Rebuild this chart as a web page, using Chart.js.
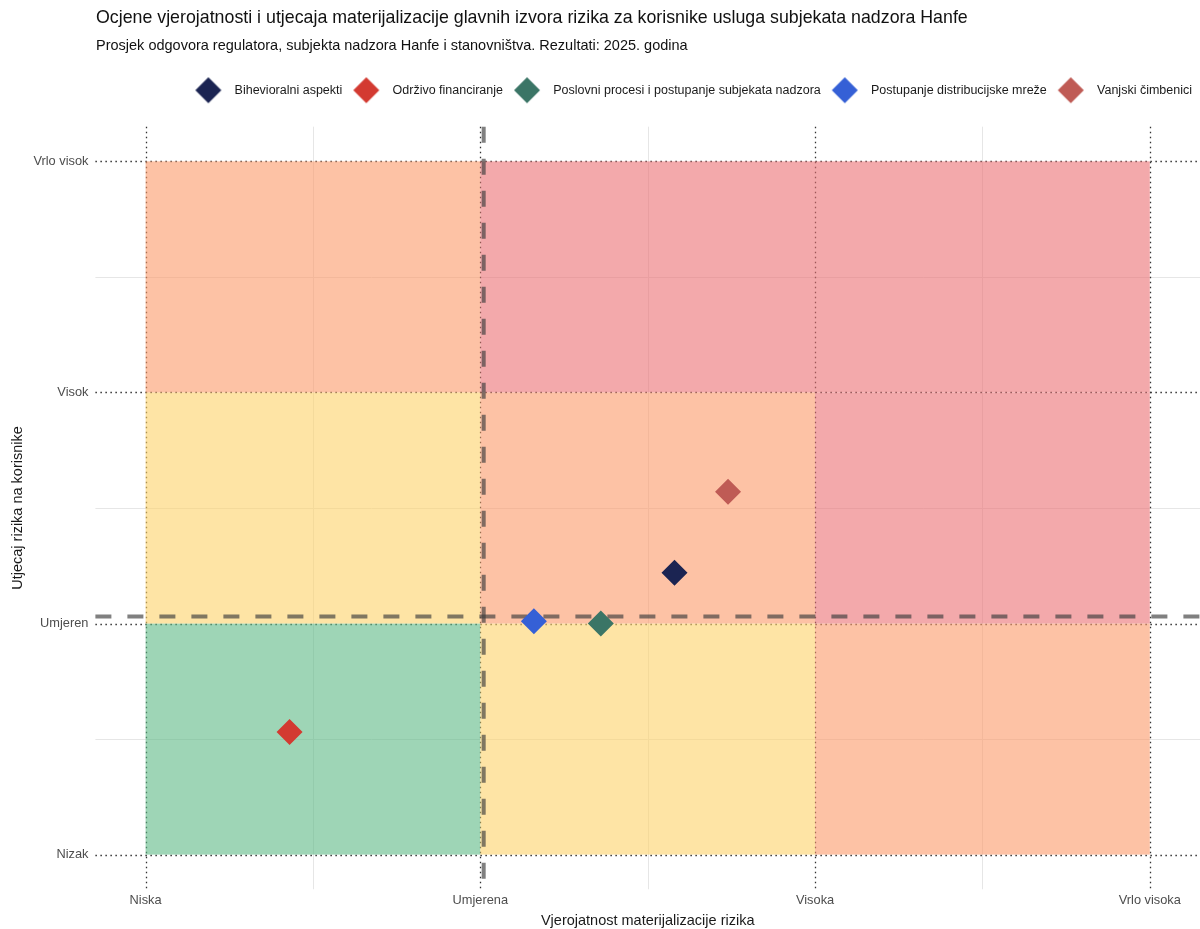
<!DOCTYPE html>
<html lang="hr">
<head>
  <meta charset="UTF-8" />
  <title>Ocjene vjerojatnosti i utjecaja rizika</title>
  <script src="https://cdn.jsdelivr.net/npm/chart.js"></script>
  <style>
    body {
      margin: 0;
      background: #fff;
      font-family: "Liberation Sans", Arial, sans-serif;
    }
    .wrap {
      position: relative;
      width: 1200px;
      height: 929px;
    }
    canvas {
      position: absolute;
      left: 0;
      top: 0;
    }
    .title {
      position: absolute;
      left: 96px;
      top: 7px;
      font-size: 17.8px;
      color: #111;
      white-space: nowrap;
    }
    .subtitle {
      position: absolute;
      left: 96px;
      top: 37px;
      font-size: 14.5px;
      color: #111;
      white-space: nowrap;
    }
  </style>
</head>
<body>
  <div class="wrap">
    <canvas id="riskChart" width="1200" height="929"></canvas>
    <div class="title">Ocjene vjerojatnosti i utjecaja materijalizacije glavnih izvora rizika za korisnike usluga subjekata nadzora Hanfe</div>
    <div class="subtitle">Prosjek odgovora regulatora, subjekta nadzora Hanfe i stanovništva. Rezultati: 2025. godina</div>
  </div>

  <script>
    // axis levels (1..4)
    const likelihoodLevels = ['Niska', 'Umjerena', 'Visoka', 'Vrlo visoka'];
    const impactLevels = ['Nizak', 'Umjeren', 'Visok', 'Vrlo visok'];

    // risk sources and their average scores
    const riskNames = [
      'Bihevioralni aspekti',
      'Održivo financiranje',
      'Poslovni procesi i postupanje subjekata nadzora',
      'Postupanje distribucijske mreže',
      'Vanjski čimbenici'
    ];
    const likelihood = [2.58, 1.43, 2.36, 2.16, 2.74];
    const impact = [2.22, 1.53, 2.00, 2.01, 2.57];
    const riskColors = ['#1b2452', '#d33a31', '#3b7566', '#3560d6', '#bf5b55'];

    // reference lines (dashed)
    const meanLikelihood = 2.01;
    const meanImpact = 2.03;

    // heat zones, rows = impact band (low -> high), cols = likelihood band
    const zoneLevels = [
      [0, 1, 2],
      [1, 2, 3],
      [2, 3, 3]
    ];
    const zoneColors = [
      'rgba(93, 185, 133, 0.6)',
      'rgba(253, 210, 105, 0.6)',
      'rgba(252, 153, 105, 0.6)',
      'rgba(235, 112, 115, 0.6)'
    ];

    Chart.defaults.font.family = "'Liberation Sans', Arial, sans-serif";

    // legend marker: 26px diamond, nudged 2px left inside its box
    function diamond(color) {
      const c = document.createElement('canvas');
      c.width = 32;
      c.height = 28;
      const g = c.getContext('2d');
      g.fillStyle = color;
      g.beginPath();
      g.moveTo(14, 1);
      g.lineTo(27, 14);
      g.lineTo(14, 27);
      g.lineTo(1, 14);
      g.closePath();
      g.fill();
      return c;
    }
    const legendMarks = riskColors.map(diamond);

    // zones, grid and dashed mean lines under the points
    const matrixPlugin = {
      id: 'matrix',
      beforeDatasetsDraw(chart) {
        const { ctx, chartArea: a, scales: { x, y } } = chart;
        ctx.save();

        // minor grid
        ctx.strokeStyle = '#e6e6e6';
        ctx.lineWidth = 1;
        [1.5, 2.5, 3.5].forEach(v => {
          const px = Math.round(x.getPixelForValue(v)) + 0.5;
          const py = Math.round(y.getPixelForValue(v)) + 0.5;
          ctx.beginPath();
          ctx.moveTo(px, a.top); ctx.lineTo(px, a.bottom);
          ctx.moveTo(a.left, py); ctx.lineTo(a.right, py);
          ctx.stroke();
        });

        // major dotted grid
        ctx.strokeStyle = '#333';
        ctx.lineWidth = 1.3;
        ctx.setLineDash([1.5, 3.5]);
        [1, 2, 3, 4].forEach(v => {
          const px = Math.round(x.getPixelForValue(v)) + 0.5;
          const py = Math.round(y.getPixelForValue(v)) + 0.5;
          ctx.beginPath();
          ctx.moveTo(px, a.top); ctx.lineTo(px, a.bottom);
          ctx.moveTo(a.left, py); ctx.lineTo(a.right, py);
          ctx.stroke();
        });
        ctx.setLineDash([]);

        // zones
        zoneLevels.forEach((row, r) => {
          row.forEach((lvl, c) => {
            const x0 = x.getPixelForValue(c + 1);
            const x1 = x.getPixelForValue(c + 2);
            const y0 = y.getPixelForValue(r + 2);
            const y1 = y.getPixelForValue(r + 1);
            ctx.fillStyle = zoneColors[lvl];
            ctx.fillRect(x0, y0, x1 - x0, y1 - y0);
          });
        });

        // dashed mean lines
        ctx.strokeStyle = 'rgba(60, 60, 60, 0.65)';
        ctx.lineWidth = 4;
        ctx.setLineDash([16, 16]);
        const mx = x.getPixelForValue(meanLikelihood);
        const my = y.getPixelForValue(meanImpact);
        ctx.beginPath();
        ctx.moveTo(mx, a.top); ctx.lineTo(mx, a.bottom);
        ctx.stroke();
        ctx.beginPath();
        ctx.moveTo(a.left, my); ctx.lineTo(a.right, my);
        ctx.stroke();

        ctx.restore();
      }
    };

    const datasets = riskNames.map((name, i) => ({
      label: name,
      data: [{ x: likelihood[i], y: impact[i] }],
      backgroundColor: riskColors[i],
      borderColor: riskColors[i],
      borderWidth: 0,
      pointStyle: 'rectRot',
      pointRadius: 13,
      pointHoverRadius: 14
    }));

    new Chart(document.getElementById('riskChart'), {
      type: 'scatter',
      data: { datasets },
      plugins: [matrixPlugin],
      options: {
        responsive: false,
        animation: false,
        layout: {
          autoPadding: false,
          padding: { top: 76, left: 0, right: 0, bottom: -1 }
        },
        plugins: {
          legend: {
            position: 'top',
            align: 'end',
            labels: {
              usePointStyle: true,
              pointStyleWidth: 36,
              padding: 8,
              color: '#1a1a1a',
              font: { size: 12.5 },
              generateLabels(chart) {
                return Chart.defaults.plugins.legend.labels.generateLabels(chart)
                  .map(item => ({ ...item, pointStyle: legendMarks[item.datasetIndex] }));
              }
            }
          },
          // empty spacer box between legend and plot
          subtitle: {
            display: true,
            text: '',
            weight: 500,
            font: { size: 1 },
            padding: { top: 0, bottom: 19 }
          },
          tooltip: {
            callbacks: {
              label: c => c.dataset.label + ': ' + c.parsed.x.toFixed(2) + ', ' + c.parsed.y.toFixed(2)
            }
          }
        },
        scales: {
          x: {
            type: 'linear',
            min: 0.85,
            max: 4.15,
            afterBuildTicks: ax => { ax.ticks = likelihoodLevels.map((_, i) => ({ value: i + 1 })); },
            afterFit: ax => { ax.paddingLeft = 0; ax.paddingRight = 0; },
            ticks: {
              callback: v => likelihoodLevels[Math.round(v) - 1],
              color: '#4d4d4d',
              font: { size: 12.8 },
              padding: 4,
              maxRotation: 0,
              autoSkip: false
            },
            grid: { display: false, drawTicks: false },
            border: { display: false },
            title: {
              display: true,
              text: 'Vjerojatnost materijalizacije rizika',
              color: '#1a1a1a',
              font: { size: 14.5 },
              padding: { top: 0, bottom: 0 }
            }
          },
          y: {
            type: 'linear',
            min: 0.85,
            max: 4.15,
            afterBuildTicks: ax => { ax.ticks = impactLevels.map((_, i) => ({ value: i + 1 })); },
            ticks: {
              callback: v => impactLevels[Math.round(v) - 1],
              color: '#4d4d4d',
              font: { size: 12.8 },
              padding: 7,
              autoSkip: false
            },
            grid: { display: false, drawTicks: false },
            border: { display: false },
            title: {
              display: true,
              text: 'Utjecaj rizika na korisnike',
              color: '#1a1a1a',
              font: { size: 14.5 },
              padding: { top: 9, bottom: 0 }
            }
          }
        }
      }
    });
  </script>
</body>
</html>
